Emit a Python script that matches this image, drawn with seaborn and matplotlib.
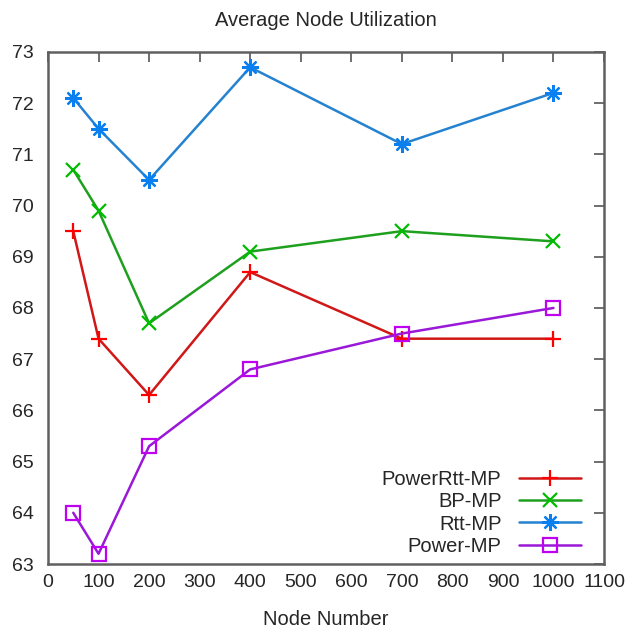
import matplotlib
matplotlib.use("Agg")
import matplotlib.pyplot as plt
import seaborn as sns
import pandas as pd

nodes = [50, 100, 200, 400, 700, 1000]
power_rtt_mp = [69.5, 67.4, 66.3, 68.7, 67.4, 67.4]
bp_mp = [70.7, 69.9, 67.7, 69.1, 69.5, 69.3]
rtt_mp = [72.1, 71.5, 70.5, 72.7, 71.2, 72.2]
power_mp = [64.0, 63.2, 65.3, 66.8, 67.5, 68.0]

series_names = ["PowerRtt-MP", "BP-MP", "Rtt-MP", "Power-MP"]
series_values = [power_rtt_mp, bp_mp, rtt_mp, power_mp]
x_ticks = list(range(0, 1101, 100))
y_ticks = list(range(63, 74))

sns.set_style("white")
plt.rcParams["font.family"] = ["Liberation Sans", "DejaVu Sans"]

fig = plt.figure(figsize=(6.29, 6.33), dpi=100)
ax = fig.add_axes([0.0763, 0.109, 0.884, 0.809])

styles = {
    "PowerRtt-MP": dict(color="#d01818", mec="#ff0000", marker="+", ms=12, mew=1.6),
    "BP-MP": dict(color="#1ea01e", mec="#00bb00", marker="x", ms=10, mew=1.6),
    "Rtt-MP": dict(color="#2582d0", mec="#0a80f0", marker=(8, 2, 0), ms=12, mew=1.6),
    "Power-MP": dict(color="#9a18d8", mec="#c000f0", marker="s", ms=9.5, mew=1.6),
}

for name, vals in zip(series_names, series_values):
    st = styles[name]
    df = pd.DataFrame({"Node Number": nodes, "value": vals})
    sns.lineplot(data=df, x="Node Number", y="value", ax=ax, label=name,
                 color=st["color"], marker=st["marker"], markersize=st["ms"],
                 markeredgecolor=st["mec"], markeredgewidth=st["mew"],
                 markerfacecolor="none", linewidth=1.8)

ax.set_xlim(0, 1100)
ax.set_ylim(63, 73)
ax.set_xticks(x_ticks)
ax.set_yticks(y_ticks)
ax.tick_params(direction="in", length=7, width=1.2, color="#555555",
               top=True, right=True, labelsize=14, pad=7)
ax.tick_params(axis="y", labelright=False, pad=10)
for sp in ax.spines.values():
    sp.set_color("#606060")
    sp.set_linewidth(1.8)

ax.set_title("Average Node Utilization", fontsize=14.5, pad=19)
ax.set_xlabel("Node Number", fontsize=14.5, labelpad=14)
ax.set_ylabel("")

ax.legend(loc="lower right", bbox_to_anchor=(0.973, 0.0), borderaxespad=0,
          frameon=False, markerfirst=False, fontsize=14.5,
          handlelength=3.1, handletextpad=0.85, labelspacing=0.17,
          borderpad=0.4, numpoints=1)

fig.savefig("out.png", dpi=100)
